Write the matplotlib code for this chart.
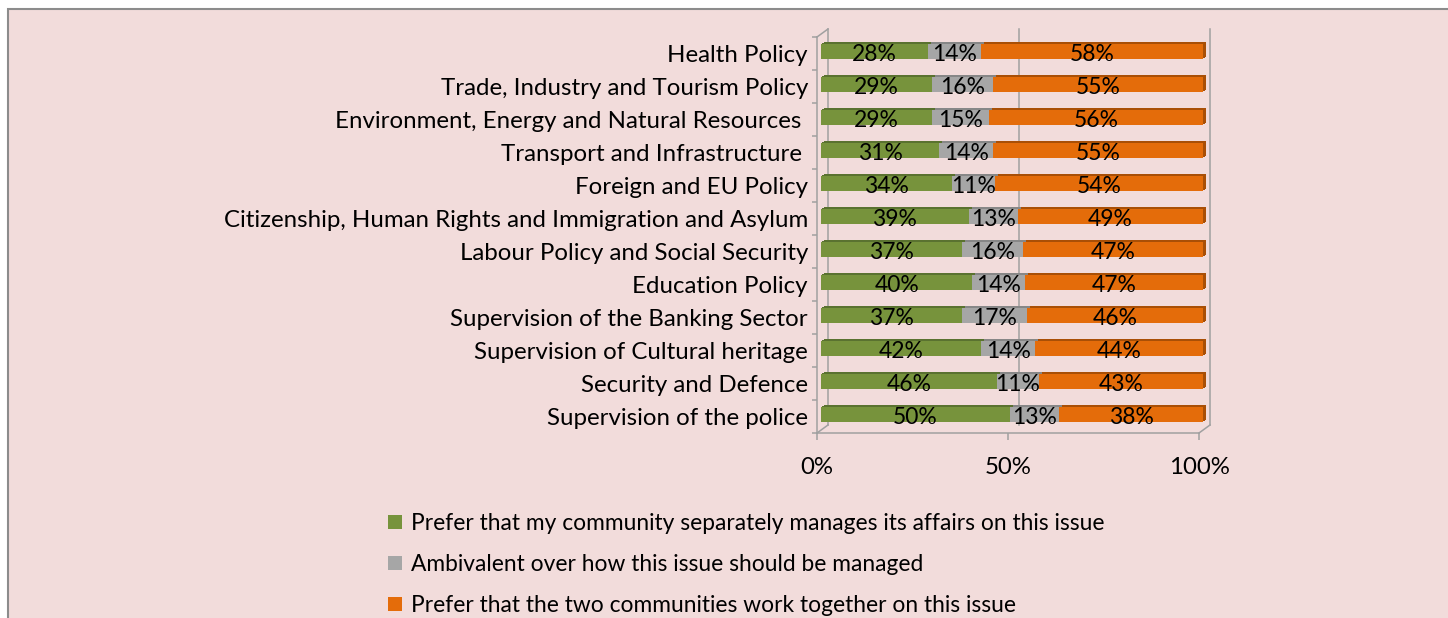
import matplotlib
matplotlib.use("Agg")
import matplotlib.pyplot as plt
from matplotlib.transforms import ScaledTranslation, IdentityTransform
from matplotlib.patches import Rectangle
import numpy as np

categories = [
    "Health Policy",
    "Trade, Industry and Tourism Policy",
    "Environment, Energy and Natural Resources ",
    "Transport and Infrastructure ",
    "Foreign and EU Policy",
    "Citizenship, Human Rights and Immigration and Asylum",
    "Labour Policy and Social Security",
    "Education Policy",
    "Supervision of the Banking Sector",
    "Supervision of Cultural heritage",
    "Security and Defence",
    "Supervision of the police",
]
separate = [28, 29, 29, 31, 34, 39, 37, 40, 37, 42, 46, 50]
ambivalent = [14, 16, 15, 14, 11, 13, 16, 14, 17, 14, 11, 13]
together = [58, 55, 56, 55, 54, 49, 47, 47, 46, 44, 43, 38]
series_names = [
    "Prefer that my community separately manages its affairs on this issue",
    "Ambivalent over how this issue should be managed",
    "Prefer that the two communities work together on this issue",
]
xticks = [0, 50, 100]
xticklabels = ["0%", "50%", "100%"]

colors = ["#77933c", "#a6a6a6", "#e46c0a"]
darks = ["#5a7230", "#878787", "#a94f06"]
grid_c = "#a0a0a0"
FONT = "Lato"
FS = 16.4
FS_CAT = 17.3
FS_DATA = 16.5

W, H = 1448, 618
fig = plt.figure(figsize=(W / 100, H / 100), dpi=100)
fig.patch.set_facecolor("white")
bg = Rectangle((8 / W, -0.1), 1.2, 1.1 - 9 / H, transform=fig.transFigure,
               facecolor="#f2dcdb", edgecolor="#8c8c8c", lw=1.5, zorder=-10)
fig.patches.append(bg)

ax = fig.add_axes([817 / W, 1 - 433 / H, 382 / W, 396 / H])
ax.set_facecolor("none")
ax.set_xlim(0, 100)
ax.set_ylim(len(categories) - 0.5, -0.5)

px = 1 / 100.0


def off(dx, dy, base=None):
    base = ax.transData if base is None else base
    return base + ScaledTranslation(dx * px, dy * px, fig.dpi_scale_trans)


# back wall (offset plane)
DX, DY = 11, 8
for xf in [0, 0.5, 1.0]:
    ax.plot([xf, xf], [0, 1], color=grid_c, lw=1.1, transform=off(DX, DY, ax.transAxes),
            zorder=1, clip_on=False)
fig.canvas.draw()
for pt in [(0, 1), (0, 0), (1, 0)]:
    p0 = ax.transAxes.transform(pt)
    ax.plot([p0[0], p0[0] + DX], [p0[1], p0[1] + DY], color=grid_c, lw=1.1,
            transform=IdentityTransform(), zorder=1, clip_on=False)

vals = np.array([separate, ambivalent, together], dtype=float)
pct = vals / vals.sum(axis=0) * 100
y = np.arange(len(categories))
BH = 0.46
BX, BY = 4, 2

left = np.zeros(len(categories))
lefts = []
for i in range(3):
    lefts.append(left.copy())
    left += pct[i]

# depth faces
for k in (1, 2, 3):
    for i in range(3):
        bars = ax.barh(y, pct[i], left=lefts[i], height=BH, color=darks[i], zorder=2, linewidth=0)
        for b in bars:
            b.set_transform(off(BX + k, BY + k * 0.67))
            b.set_clip_on(False)
# front faces
for i in range(3):
    bars = ax.barh(y, pct[i], left=lefts[i], height=BH, color=colors[i], zorder=3,
                   linewidth=0, label=series_names[i])
    for b in bars:
        b.set_transform(off(BX, BY))
        b.set_clip_on(False)
    for j in range(len(categories)):
        ax.text(lefts[i][j] + pct[i][j] / 2, j, f"{int(vals[i][j])}%", ha="center", va="center",
                fontsize=FS_DATA, family=FONT, color="black", transform=off(BX, -1), zorder=4)

for s in ["top", "right"]:
    ax.spines[s].set_visible(False)
for s in ["left", "bottom"]:
    ax.spines[s].set_color(grid_c)
    ax.spines[s].set_linewidth(1.1)

ax.set_yticks(y)
ax.set_yticklabels(categories, family=FONT, fontsize=FS_CAT)
for lbl in ax.get_yticklabels():
    lbl.set_transform(lbl.get_transform() + ScaledTranslation(0, -2 * px, fig.dpi_scale_trans))
ax.set_yticks(np.arange(len(categories) + 1) - 0.5, minor=True)
ax.tick_params(axis="y", which="major", length=0, pad=6.5)
ax.tick_params(axis="y", which="minor", length=3.6, color=grid_c, width=1.1)
ax.set_xticks(xticks)
ax.set_xticklabels(xticklabels, family=FONT, fontsize=FS_CAT)
ax.tick_params(axis="x", length=5, color=grid_c, width=1.1, pad=12)

handles = [Rectangle((0, 0), 1, 1, facecolor=c) for c in colors]
fig.legend(handles, series_names, loc="upper left", bbox_to_anchor=(388 / W, 1 - 513 / H),
           frameon=False, prop={"family": FONT, "size": FS}, handlelength=0.6, handleheight=0.6,
           handletextpad=0.4, labelspacing=0.88, borderaxespad=0, borderpad=0)

fig.savefig("out.png", dpi=100, facecolor=fig.get_facecolor())
